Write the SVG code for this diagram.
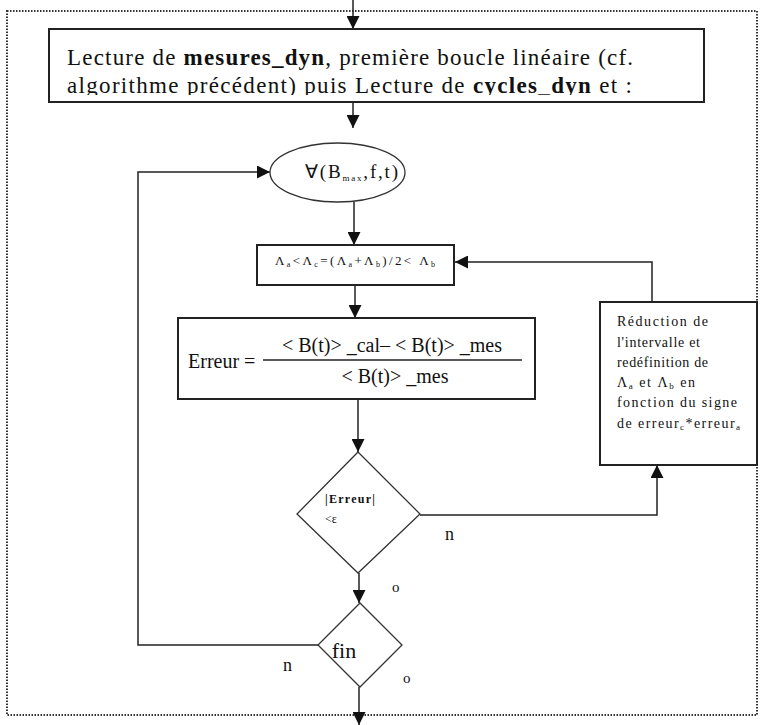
<svg xmlns="http://www.w3.org/2000/svg" width="761" height="725" viewBox="0 0 761 725">
<style>
text{font-family:"Liberation Serif","Times New Roman",serif;fill:#111}
.box{fill:#fff;stroke:#222;stroke-width:2}
.shape{fill:#fff;stroke:#333;stroke-width:1.3}
.ln{fill:none;stroke:#222;stroke-width:1.5}
.frame{fill:none;stroke:#333;stroke-width:2;stroke-dasharray:1.5 1.5}
</style>
<defs>
<marker id="ah" viewBox="0 0 12 12" refX="12" refY="6" markerWidth="13" markerHeight="13" markerUnits="userSpaceOnUse" orient="auto"><path d="M0,0 L12,6 L0,12 z" fill="#111"/></marker>
<clipPath id="c1"><rect x="49" y="29" width="655" height="66"/></clipPath>
</defs>
<rect width="761" height="725" fill="#fff"/>
<rect class="frame" x="7" y="11" width="750" height="704"/>
<g id="connectors">
<path class="ln" d="M353,0 V29" marker-end="url(#ah)"/>
<path class="ln" d="M353,102 V128" marker-end="url(#ah)"/>
<path class="ln" d="M354,202 V245" marker-end="url(#ah)"/>
<path class="ln" d="M355,285 V318" marker-end="url(#ah)"/>
<path class="ln" d="M358,400 V452" marker-end="url(#ah)"/>
<path class="ln" d="M359,573 V603" marker-end="url(#ah)"/>
<path class="ln" d="M359,687 V725" marker-end="url(#ah)"/>
<path class="ln" d="M420,515 H657 V465" marker-end="url(#ah)"/>
<path class="ln" d="M652,302 V262 H455" marker-end="url(#ah)"/>
<path class="ln" d="M318,645 H138 V172 H270" marker-end="url(#ah)"/>
</g>
<g id="box-lecture">
<rect class="box" x="49" y="29" width="655" height="73"/>
<g clip-path="url(#c1)">
<text x="67" y="65" font-size="23" textLength="566" lengthAdjust="spacing">Lecture de <tspan font-weight="bold">mesures_dyn</tspan>, première boucle linéaire (cf.</text>
<text x="67" y="93" font-size="23" textLength="565" lengthAdjust="spacing">algorithme précédent) puis Lecture de <tspan font-weight="bold">cycles_dyn</tspan> et :</text>
</g>
</g>
<g id="loop-start">
<ellipse class="shape" cx="337.5" cy="172.5" rx="67.5" ry="29.5"/>
<text x="305" y="178" font-size="19" textLength="93" lengthAdjust="spacing">∀(B<tspan font-size="9" dy="3">max</tspan><tspan dy="-3">,f,t)</tspan></text>
</g>
<g id="box-lambda">
<rect class="box" x="257" y="245" width="197" height="40"/>
<text x="275" y="265" font-size="13" textLength="160" lengthAdjust="spacing">Λ<tspan font-size="8" dy="2">a</tspan><tspan dy="-2">&lt;Λ</tspan><tspan font-size="8" dy="2">c</tspan><tspan dy="-2">=(Λ</tspan><tspan font-size="8" dy="2">a</tspan><tspan dy="-2">+Λ</tspan><tspan font-size="8" dy="2">b</tspan><tspan dy="-2">)/2&lt; Λ</tspan><tspan font-size="8" dy="2">b</tspan></text>
</g>
<g id="box-erreur">
<rect class="box" x="178" y="318" width="357" height="81"/>
<text x="188" y="368" font-size="20">Erreur =</text>
<line x1="263" y1="360" x2="522" y2="360" stroke="#222" stroke-width="1.5"/>
<text x="392" y="352" font-size="20" text-anchor="middle">&lt; B(t)&gt; _cal– &lt; B(t)&gt; _mes</text>
<text x="395" y="383" font-size="20" text-anchor="middle">&lt; B(t)&gt; _mes</text>
</g>
<g id="box-reduction">
<rect class="box" x="600" y="302" width="157" height="163"/>
<g font-size="14">
<text x="617" y="326" textLength="91" lengthAdjust="spacing">Réduction de</text>
<text x="617" y="347" textLength="83" lengthAdjust="spacing">l'intervalle et</text>
<text x="617" y="367" textLength="91" lengthAdjust="spacing">redéfinition de</text>
<text x="617" y="387" textLength="78" lengthAdjust="spacing">Λ<tspan font-size="9" dy="2">a</tspan><tspan dy="-2"> et Λ</tspan><tspan font-size="9" dy="2">b</tspan><tspan dy="-2"> en</tspan></text>
<text x="617" y="407" textLength="120" lengthAdjust="spacing">fonction du signe</text>
<text x="617" y="428" textLength="123" lengthAdjust="spacing">de erreur<tspan font-size="9" dy="2">c</tspan><tspan dy="-2">*erreur</tspan><tspan font-size="9" dy="2">a</tspan></text>
</g>
</g>
<g id="decision-erreur">
<polygon class="shape" points="358,452 420,514 358,573 297,514"/>
<text x="325" y="503" font-size="12" font-weight="bold" textLength="50" lengthAdjust="spacing">|Erreur|</text>
<text x="325" y="523" font-size="12">&lt;ε</text>
</g>
<g id="decision-fin">
<polygon class="shape" points="360,603 402,645 360,687 318,645"/>
<text x="344" y="658" font-size="22" text-anchor="middle">fin</text>
</g>
<g id="labels" font-size="18">
<text x="445" y="540">n</text>
<text x="392" y="592" font-size="15">o</text>
<text x="283" y="671">n</text>
<text x="403" y="683" font-size="15">o</text>
</g>
</svg>
